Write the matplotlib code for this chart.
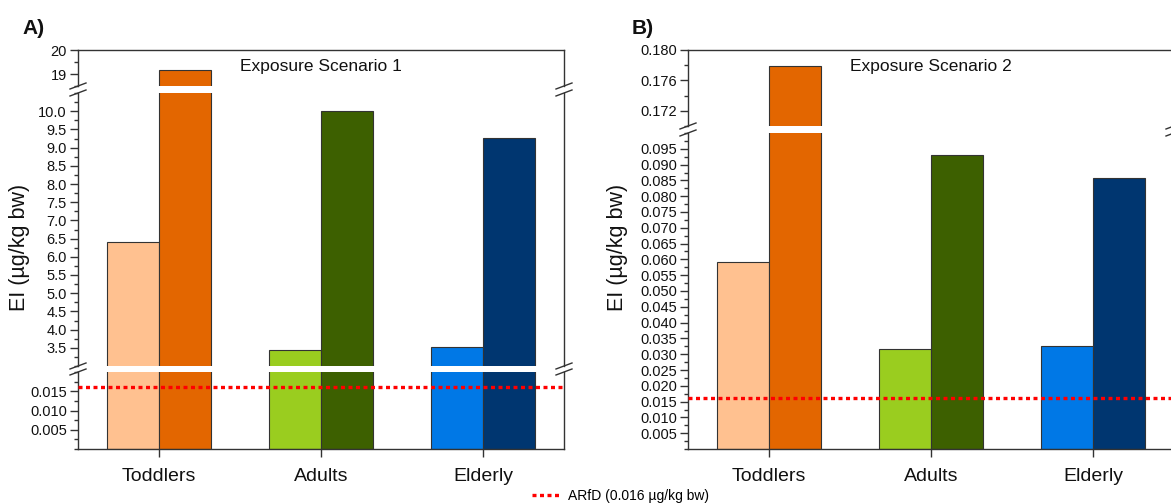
import matplotlib
matplotlib.use("Agg")
import matplotlib.pyplot as plt
from matplotlib.lines import Line2D
from matplotlib.ticker import MultipleLocator, FixedLocator, FormatStrFormatter
import numpy as np

plt.rcParams['font.family'] = ['Liberation Sans', 'DejaVu Sans']

# ---------------- data ----------------
categories = ["Toddlers", "Adults", "Elderly"]
scenario1_low = [6.4, 3.45, 3.51]
scenario1_high = [19.17, 10.0, 9.27]
scenario2_low = [0.0592, 0.0318, 0.0325]
scenario2_high = [0.1779, 0.0929, 0.0859]
arfd = 0.016
light_colors = ["#FFC190", "#9ACD1F", "#0078E6"]
dark_colors = ["#E36600", "#3D6000", "#003670"]
panel_titles = ["Exposure Scenario 1", "Exposure Scenario 2"]
panel_labels = ["A)", "B)"]
ylabel = "EI (µg/kg bw)"
legend_label = "ARfD (0.016 µg/kg bw)"

W, H = 1171, 503
fig = plt.figure(figsize=(W / 100, H / 100), dpi=100)
SP = "#333333"
TXT = "#111111"


def rect(x0, yt, x1, yb):
    return [x0 / W, 1 - yb / H, (x1 - x0) / W, (yb - yt) / H]


def fline(xs, ys, **kw):
    fig.add_artist(Line2D(np.array(xs) / W, 1 - np.array(ys) / H,
                          transform=fig.transFigure, color=SP, lw=1.0, **kw))


def make_panel(x0, x1, segments, low, high, title, plabel, ylab_x):
    x = np.arange(1, len(categories) + 1)
    w = 0.32
    axes = []
    n = len(segments)
    for i, (yt, yb, ylim, major, minor, fmt, fixed) in enumerate(segments):
        ax = fig.add_axes(rect(x0, yt, x1, yb))
        ax.bar(x - w / 2, low, width=w, color=light_colors, edgecolor=SP, lw=0.8, zorder=2)
        ax.bar(x + w / 2, high, width=w, color=dark_colors, edgecolor=SP, lw=0.8, zorder=2)
        ax.set_xlim(0.5, 3.5)
        ax.set_ylim(*ylim)
        if fixed is not None:
            ax.yaxis.set_major_locator(FixedLocator(fixed))
        else:
            ax.yaxis.set_major_locator(MultipleLocator(major))
        ax.yaxis.set_minor_locator(MultipleLocator(minor))
        ax.yaxis.set_major_formatter(FormatStrFormatter(fmt))
        ax.tick_params(axis='y', which='major', direction='out', length=6, width=1.0,
                       labelsize=10.5, pad=2, colors=SP, labelcolor=TXT)
        ax.tick_params(axis='y', which='minor', direction='out', length=3, width=1.0, colors=SP)
        for s in ax.spines.values():
            s.set_color(SP)
            s.set_linewidth(1.0)
        if i != 0:
            ax.spines['top'].set_visible(False)
        if i != n - 1:
            ax.spines['bottom'].set_visible(False)
            ax.set_xticks([])
        else:
            ax.set_xticks(x)
            ax.set_xticklabels(categories)
            ax.tick_params(axis='x', direction='out', length=6, width=1.0, labelsize=14,
                           pad=8, colors=SP, labelcolor=TXT)
            ax.axhline(arfd, color='#FF0000', lw=2.4, linestyle=(0, (1.2, 1.05)),
                       zorder=3, label=legend_label)
        axes.append(ax)
    # break marks
    for i in range(n - 1):
        yb = segments[i][1]
        yt = segments[i + 1][0]
        for xs in (x0, x1):
            fline([xs - 8, xs + 8], [yb + 3, yb - 3])
            fline([xs - 8, xs + 8], [yt + 3, yt - 3])
    fig.text((x0 + x1) / 2 / W + 0.0 / W, 1 - 67 / H, title, ha='center', va='center',
             fontsize=12.5, color=TXT)
    fig.text((x0 - 56) / W, 1 - 28 / H, plabel, ha='left', va='center', fontsize=15,
             fontweight='bold', color=TXT)
    fig.text(ylab_x / W, 1 - 247 / H, ylabel, rotation=90, ha='center', va='center',
             fontsize=15.5, color=TXT)
    return axes


segA = [
    (50, 86, (18.5, 20), 1, 0.5, '%d', [19, 20]),
    (93, 366, (3.0, 10.5), 0.5, 0.25, '%.1f', list(np.arange(3.5, 10.01, 0.5))),
    (372, 449, (0, 0.020), 0.005, 0.0025, '%.3f', [0.005, 0.010, 0.015]),
]
segB = [
    (50, 126, (0.170, 0.180), 0.004, 0.002, '%.3f', [0.172, 0.176, 0.180]),
    (133, 449, (0, 0.100), 0.005, 0.0025, '%.3f', list(np.arange(0.005, 0.0951, 0.005))),
]

axA = make_panel(78, 564, segA, scenario1_low, scenario1_high, panel_titles[0], panel_labels[0], 19.5)
axB = make_panel(688, 1174, segB, scenario2_low, scenario2_high, panel_titles[1], panel_labels[1], 617)

h, l = axA[-1].get_legend_handles_labels()
fig.legend(h, l, loc='center left', bbox_to_anchor=(532 / W, 1 - 496 / H), frameon=False,
           fontsize=10, handlelength=2.0, handletextpad=0.6, borderpad=0, borderaxespad=0)

fig.savefig("out.png", dpi=100)
